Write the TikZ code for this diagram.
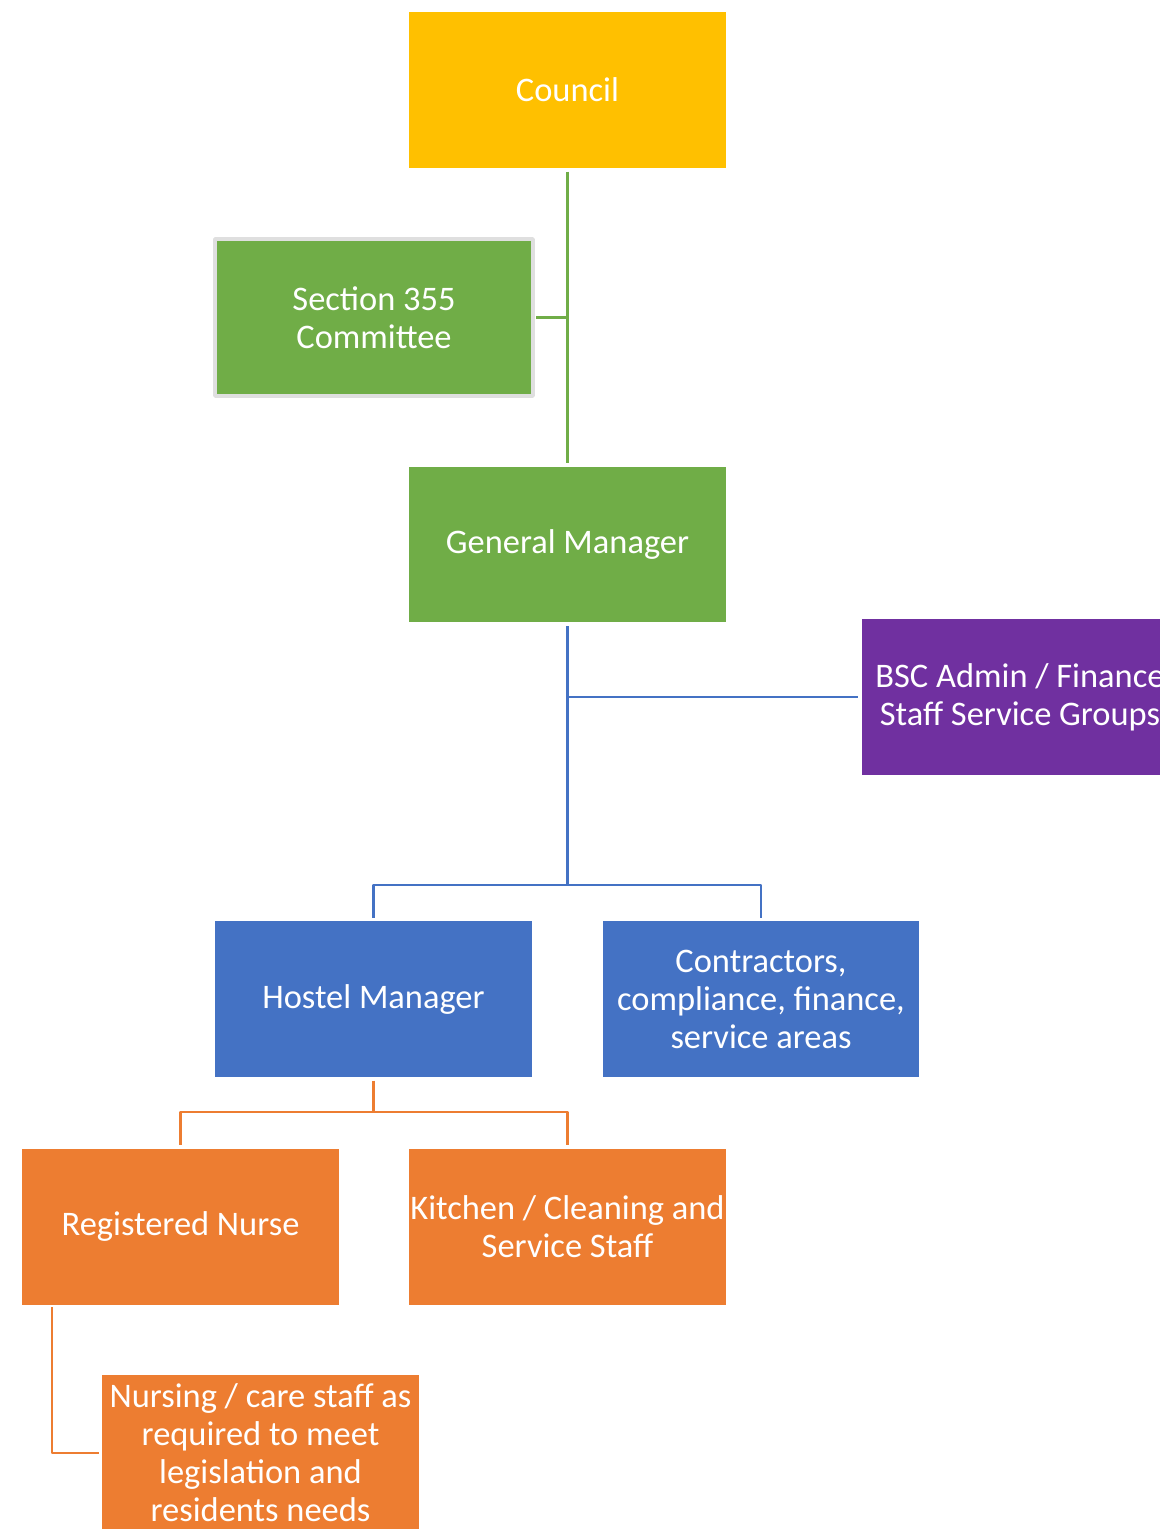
\documentclass[tikz,border=0pt]{standalone}
\usepackage{fontspec}
\setmainfont{Carlito}
\usetikzlibrary{positioning}
\definecolor{cyellow}{HTML}{FFC000}
\definecolor{cgreen}{HTML}{70AD47}
\definecolor{cblue}{HTML}{4472C4}
\definecolor{corange}{HTML}{ED7D31}
\definecolor{cpurple}{HTML}{7030A0}
\tikzset{orgbox/.style={minimum width=6.34cm,minimum height=3.12cm,text=white,align=center,inner sep=0pt,outer sep=2pt,font=\fontsize{19.6}{21.6}\selectfont}}
\begin{document}
\begin{tikzpicture}[x=0.02cm,y=-0.02cm,line join=round,link/.style={line width=1.5pt}]
\clip (0,0) rectangle (1160,1529);
\useasboundingbox (0,0) rectangle (1160,1529);
% --- top: council, committee, general manager
\node[orgbox,fill=cyellow] (council) at (567.5,90) {Council};
\node[orgbox,fill=cgreen,draw=gray!25,line width=2pt,minimum width=6.36cm,minimum height=3.14cm] (s355) at (374,317.5) {Section 355\\Committee};
\node[orgbox,fill=cgreen] (gm) at (567.5,544.5) {General Manager};
\draw[link,cgreen] (council) -- (gm); \draw[link,cgreen] (s355.east) -- (s355.east -| council.south);
% --- middle: admin and the two managers
\node[orgbox,fill=cpurple] (bsc) at (1020,697) {BSC Admin / Finance\\Staff Service Groups};
\node[orgbox,fill=cblue] (hm) at (373.5,999) {Hostel Manager};
\node[orgbox,fill=cblue] (con) at (761,999) {Contractors,\\compliance, finance,\\service areas};
\coordinate (bbus) at (567.5,885);
\draw[link,cblue] (gm.south) -- (bbus); \draw[link,cblue] (bsc.west -| gm.south) -- (bsc.west);
\draw[link,cblue] (hm.north) |- (bbus) -| (con.north);
% --- bottom: hostel staff
\node[orgbox,fill=corange] (rn) at (180.5,1226.5) {Registered Nurse};
\node[orgbox,fill=corange] (kit) at (567.5,1226.5) {Kitchen / Cleaning and\\Service Staff};
\node[orgbox,fill=corange] (nc) at (260.5,1453) {Nursing / care staff as\\required to meet\\legislation and\\residents needs};
\coordinate (obus) at (373.5,1112);
\draw[link,corange] (hm.south) -- (obus); \draw[link,corange] (rn.north) |- (obus) -| (kit.north);
\coordinate (nleg) at (52,1307);
\draw[link,corange] (nleg) |- (nc.west);
\end{tikzpicture}
\end{document}
